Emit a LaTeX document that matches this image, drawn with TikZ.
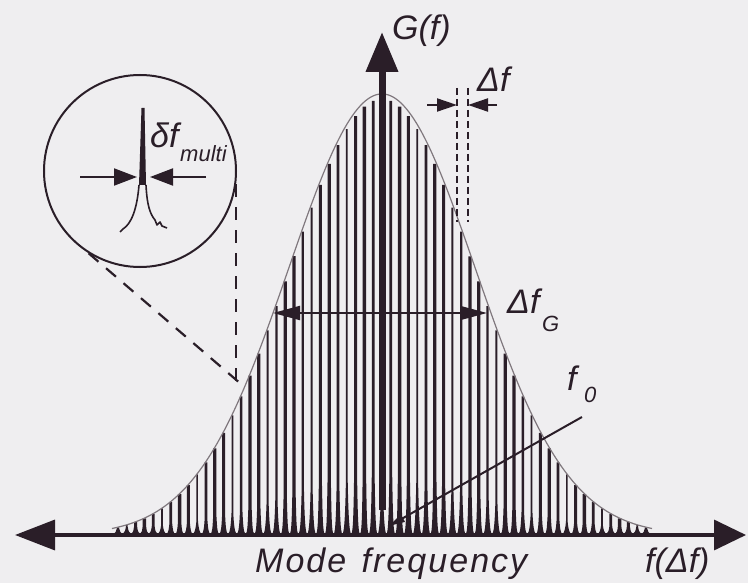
\documentclass[tikz,border=0pt]{standalone}
\usepackage{fontspec}
\setmainfont{Liberation Sans}
\usetikzlibrary{arrows.meta}

\definecolor{paper}{RGB}{239,238,240}
\definecolor{ink}{RGB}{42,30,40}
\definecolor{envgrey}{RGB}{128,120,126}

\begin{document}
\begin{tikzpicture}[x=1pt, y=-1pt,
    lbl/.style={font=\fontsize{34}{36}\selectfont\itshape, text=ink, inner sep=0pt},
    sublbl/.style={font=\fontsize{22}{24}\selectfont\itshape, text=ink, inner sep=0pt},
    dimarrow/.style={ink, line width=2pt, -{Triangle[length=22pt, width=14pt]}},
    zoomline/.style={ink, line width=2.2pt, dash pattern=on 13pt off 10pt},
    spacing/.style={ink, line width=1.6pt, dash pattern=on 7pt off 4pt}]
	\fill[paper] (0,0) rectangle (748,583);
	\useasboundingbox (0,0) rectangle (748,583);
	% comb of longitudinal modes
	\foreach \k in {-30,...,30}{
		\pgfmathsetmacro{\xm}{382+8.8*\k}
		\pgfmathsetmacro{\gv}{exp(-(8.8*\k/93)*(8.8*\k/93)/2)}
		\pgfmathsetmacro{\ytop}{535-436*\gv}
		\pgfmathsetmacro{\sk}{min(0.6*436*\gv, 5+55*\gv)}
		\pgfmathsetmacro{\ysk}{533-\sk}
		\pgfmathsetmacro{\yc}{533-0.35*\sk}
		\pgfmathsetmacro{\hw}{0.7+1.0*abs(sin(\k*137))}
		\fill[ink] (\xm-4.4,534) .. controls (\xm-2.5,533) and (\xm-\hw-0.6,\yc) .. (\xm-\hw,\ysk)
			-- (\xm-\hw,\ytop) -- (\xm+\hw,\ytop) -- (\xm+\hw,\ysk)
			.. controls (\xm+\hw+0.6,\yc) and (\xm+2.5,533) .. (\xm+4.4,534) -- cycle;
	}
	% gaussian gain envelope
	\draw[envgrey, line width=1.2pt] plot[domain=112:652, samples=120, smooth]
		(\x, {535-441*exp(-((\x-382)/93)*((\x-382)/93)/2)});
	% axes
	\coordinate (axl) at (15,535);
	\coordinate (axr) at (746,535);
	\draw[ink, line width=3.5pt, {Triangle[length=40pt, width=30pt]}-{Triangle[length=32pt, width=30pt]}] (axl) -- (axr);
	\coordinate (gbot) at (382,510);
	\coordinate (gtop) at (382,32);
	\draw[ink, line width=1.5pt] (382,535) -- (gbot);
	\draw[ink, line width=7pt, -{Triangle[length=40pt, width=31pt]}] (gbot) -- (gtop);
	\node[lbl, anchor=base west] (gf) at (392,40) {G(f)};
	\node[lbl, anchor=base west] (modefreq) at (255,572) {\addfontfeatures{LetterSpace=6}Mode\hspace{0.45em}frequency};
	\node[lbl, anchor=base west] (faxis) at (645,572) {f(Δf)};
	% gain bandwidth
	\coordinate (gl) at (273,313);
	\coordinate (gr) at (487,313);
	\draw[dimarrow, {Triangle[length=27pt, width=14pt]}-{Triangle[length=27pt, width=14pt]}] (gl) -- (gr);
	\node[lbl, anchor=base west] (dfg) at (507,313) {Δf};
	\node[sublbl, anchor=base west] (dfgsub) at (542,331) {G};
	% mode spacing
	\coordinate (sa) at (457,88);
	\coordinate (sb) at (468,88);
	\draw[spacing] (sa) -- (457,222);
	\draw[spacing] (sb) -- (468,222);
	\draw[dimarrow, -{Triangle[length=20pt, width=13pt]}] (427,105) -- (sa |- 0,105);
	\draw[dimarrow, -{Triangle[length=20pt, width=13pt]}] (497,105) -- (sb |- 0,105);
	\node[lbl, anchor=base west] (df) at (477,92) {Δf};
	% centre frequency
	\node[lbl, anchor=base west] (f0) at (567,390) {f};
	\node[sublbl, anchor=base west] (f0sub) at (584,402) {0};
	\coordinate (f0tail) at (582,417);
	\coordinate (f0head) at (389,526);
	\draw[ink, line width=2pt, -{Triangle[length=16pt, width=8pt]}] (f0tail) -- (f0head);
	% magnified single mode
	\node[circle, draw=ink, line width=2pt, minimum size=192pt, inner sep=0pt] (zoom) at (140,171) {};
	\fill[ink] (139,185) -- (141.5,108) -- (144.5,108) -- (146,185) -- cycle;
	\draw[ink, line width=1.6pt, line join=round] (120,232) -- (123,229)
		.. controls (131,224) and (137,210) .. (139,185);
	\draw[ink, line width=1.6pt, line join=round] (146,185)
		.. controls (147,205) and (150,214) .. (155,220) -- (157,225) -- (160,222) -- (162,226) -- (167,228);
	\draw[dimarrow, -{Triangle[length=23pt, width=17pt]}] (80,177) -- (137,177);
	\draw[dimarrow, -{Triangle[length=23pt, width=17pt]}] (206,177) -- (150,177);
	\node[lbl, anchor=base west] (dfm) at (150,148) {δf};
	\node[sublbl, anchor=base west] (dfmsub) at (180,162) {multi};
	\coordinate (spot) at (241,384);
	\draw[zoomline] (zoom.238) -- (spot);
	\draw[zoomline] (zoom.-8) -- (zoom.-8 |- spot);
\end{tikzpicture}
\end{document}
